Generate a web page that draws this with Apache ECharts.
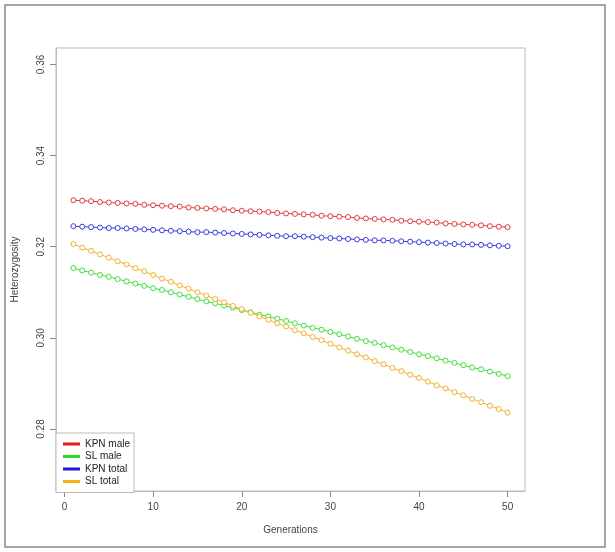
<!DOCTYPE html>
<html>
<head>
<meta charset="utf-8">
<script src="https://cdn.jsdelivr.net/npm/echarts@6/dist/echarts.min.js"></script>
<style>html,body{margin:0;padding:0;background:#fff;}#c{width:615px;height:552px;}</style>
</head>
<body>
<div id="c"></div>
<script>
const generations = [1,2,3,4,5,6,7,8,9,10,11,12,13,14,15,16,17,18,19,20,21,22,23,24,25,26,27,28,29,30,31,32,33,34,35,36,37,38,39,40,41,42,43,44,45,46,47,48,49,50];
const kpnMale = [0.3302,0.3301,0.3300,0.3298,0.3297,0.3296,0.3295,0.3294,0.3292,0.3291,0.3290,0.3289,0.3288,0.3286,0.3285,0.3284,0.3283,0.3282,0.3280,0.3279,0.3278,0.3277,0.3276,0.3274,0.3273,0.3272,0.3271,0.3270,0.3268,0.3267,0.3266,0.3265,0.3263,0.3262,0.3261,0.3260,0.3259,0.3257,0.3256,0.3255,0.3254,0.3253,0.3251,0.3250,0.3249,0.3248,0.3247,0.3245,0.3244,0.3243];
const slMale = [0.3153,0.3148,0.3143,0.3138,0.3134,0.3129,0.3124,0.3119,0.3114,0.3109,0.3105,0.3100,0.3095,0.3090,0.3085,0.3080,0.3076,0.3071,0.3066,0.3061,0.3056,0.3051,0.3047,0.3042,0.3037,0.3032,0.3027,0.3022,0.3018,0.3013,0.3008,0.3003,0.2998,0.2993,0.2989,0.2984,0.2979,0.2974,0.2969,0.2964,0.2960,0.2955,0.2950,0.2945,0.2940,0.2935,0.2931,0.2926,0.2921,0.2916];
const kpnTotal = [0.3245,0.3244,0.3243,0.3242,0.3241,0.3241,0.3240,0.3239,0.3238,0.3237,0.3236,0.3235,0.3234,0.3233,0.3232,0.3232,0.3231,0.3230,0.3229,0.3228,0.3227,0.3226,0.3225,0.3224,0.3223,0.3223,0.3222,0.3221,0.3220,0.3219,0.3218,0.3217,0.3216,0.3215,0.3214,0.3214,0.3213,0.3212,0.3211,0.3210,0.3209,0.3208,0.3207,0.3206,0.3205,0.3205,0.3204,0.3203,0.3202,0.3201];
const slTotal = [0.3206,0.3198,0.3191,0.3183,0.3176,0.3168,0.3161,0.3153,0.3146,0.3138,0.3130,0.3123,0.3115,0.3108,0.3100,0.3093,0.3085,0.3078,0.3070,0.3063,0.3055,0.3047,0.3040,0.3032,0.3025,0.3017,0.3010,0.3002,0.2995,0.2987,0.2979,0.2972,0.2964,0.2957,0.2949,0.2942,0.2934,0.2927,0.2919,0.2912,0.2904,0.2896,0.2889,0.2881,0.2874,0.2866,0.2859,0.2851,0.2844,0.2836];
const seriesNames = ['KPN male','SL male','KPN total','SL total'];
const xTicks = [0,10,20,30,40,50];
const yTicks = [0.28,0.30,0.32,0.34,0.36];

const colors = ['#e33a3a','#3ee03e','#3a3ae0','#f5b02a'];
const legendColors = ['#e41a1a','#22dd22','#1a1ae0','#f5b01a'];
const dataSets = [kpnMale, slMale, kpnTotal, slTotal];
const font = 'Liberation Sans, Arial, sans-serif';

const chart = echarts.init(document.getElementById('c'), null, {renderer:'canvas'});
chart.setOption({
  animation:false,
  backgroundColor:'#fff',
  color: colors,
  graphic:[{type:'rect', shape:{x:5,y:5,width:600,height:542}, style:{fill:'none', stroke:'#888', lineWidth:1.5}, z:-1}],
  grid:{left:56, right:90, top:48, bottom:61, show:true, borderColor:'#bbb', borderWidth:1, backgroundColor:'transparent'},
  legend:{
    left:56, top:433, orient:'vertical', itemGap:2.5, itemWidth:17, itemHeight:3,
    icon:'rect', borderColor:'#bbb', borderWidth:1, padding:[6,4,6,7], backgroundColor:'#fff',
    itemStyle:{borderWidth:0},
    textStyle:{fontFamily:font, fontSize:10, color:'#222'},
    data: seriesNames.map((n,i)=>({name:n, itemStyle:{color:legendColors[i], borderWidth:0}}))
  },
  xAxis:{
    type:'value', min:-0.96, max:51.96,
    name:'Generations', nameLocation:'middle', nameGap:34,
    nameTextStyle:{fontFamily:font, fontSize:10, color:'#444'},
    axisLine:{show:true, onZero:false, lineStyle:{color:'#bbb'}},
    axisTick:{show:true, customValues:xTicks, length:6, inside:false, lineStyle:{color:'#888'}},
    axisLabel:{customValues:xTicks, fontFamily:font, fontSize:10, color:'#444', margin:11},
    splitLine:{show:false}
  },
  yAxis:{
    type:'value', min:0.2664, max:0.3636,
    name:'Heterozygosity', nameLocation:'middle', nameGap:36,
    nameTextStyle:{fontFamily:font, fontSize:10, color:'#444'},
    axisLine:{show:true, onZero:false, lineStyle:{color:'#bbb'}},
    axisTick:{show:true, customValues:yTicks, length:6, inside:false, lineStyle:{color:'#888'}},
    axisLabel:{customValues:yTicks, rotate:90, fontFamily:font, fontSize:10, color:'#444', margin:10,
      formatter:v=>v.toFixed(2)},
    splitLine:{show:false}
  },
  series: seriesNames.map((n,i)=>({
    name:n, type:'line',
    data: generations.map((g,j)=>[g, dataSets[i][j]]),
    symbol:'circle', symbolSize:5, showSymbol:true,
    itemStyle:{color:'#fff', borderColor:colors[i], borderWidth:1},
    lineStyle:{color:colors[i], width:1},
    z: 2
  }))
});
</script>
</body>
</html>
